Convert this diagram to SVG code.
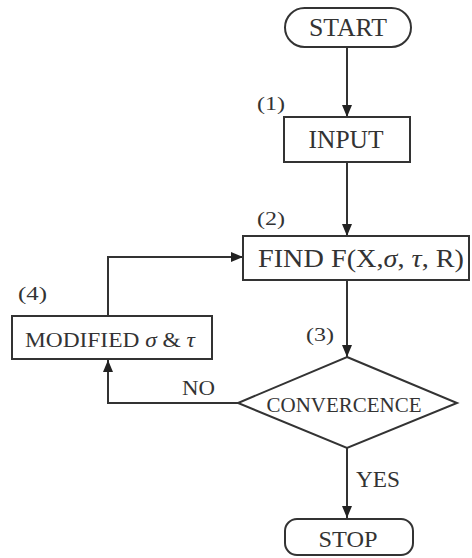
<svg xmlns="http://www.w3.org/2000/svg" width="472" height="558" viewBox="0 0 472 558">
<style>
.shape{fill:#fff;stroke:#333;stroke-width:2}
.conn{fill:none;stroke:#333;stroke-width:2}
text{font-family:"Liberation Serif","Times New Roman",serif;fill:#333}
.big{font-size:25px}
.lbl{font-size:19px}
</style>
<defs>
<marker id="ah2" viewBox="0 0 12 10" refX="12" refY="5" markerWidth="12" markerHeight="10" markerUnits="userSpaceOnUse" orient="auto">
<path d="M0,0 L12,5 L0,10 z" fill="#222"/>
</marker>
</defs>
<g id="connectors">
<line class="conn" x1="347" y1="47" x2="347" y2="117" marker-end="url(#ah2)"/>
<line class="conn" x1="347" y1="162" x2="347" y2="236" marker-end="url(#ah2)"/>
<line class="conn" x1="347" y1="280" x2="347" y2="357" marker-end="url(#ah2)"/>
<polyline class="conn" points="108,316 108,257 243,257" marker-end="url(#ah2)"/>
<polyline class="conn" points="238,403 108,403 108,360" marker-end="url(#ah2)"/>
<line class="conn" x1="347" y1="448" x2="347" y2="518" marker-end="url(#ah2)"/>
<text class="big" x="182" y="395" style="font-size:22px" textLength="33" lengthAdjust="spacingAndGlyphs">NO</text>
<text class="big" x="356" y="487" style="font-size:23px" textLength="44" lengthAdjust="spacingAndGlyphs">YES</text>
</g>
<g id="start">
<rect class="shape" x="285" y="8" width="126" height="39" rx="19.5"/>
<text class="big" x="348" y="36" text-anchor="middle" textLength="78" lengthAdjust="spacingAndGlyphs">START</text>
</g>
<g id="input">
<rect class="shape" x="284" y="117" width="126" height="45"/>
<text class="lbl" x="257" y="110" textLength="28" lengthAdjust="spacingAndGlyphs">(1)</text>
<text class="big" x="346" y="148" text-anchor="middle" textLength="75" lengthAdjust="spacingAndGlyphs">INPUT</text>
</g>
<g id="find">
<rect class="shape" x="243" y="236" width="226" height="44"/>
<text class="lbl" x="257" y="225" textLength="28" lengthAdjust="spacingAndGlyphs">(2)</text>
<text class="big" x="258" y="267" textLength="206" lengthAdjust="spacingAndGlyphs">FIND  F(X,<tspan font-style="italic">σ</tspan>, <tspan font-style="italic">τ</tspan>, R)</text>
</g>
<g id="modified">
<rect class="shape" x="12" y="316" width="200" height="43"/>
<text class="lbl" x="18" y="300" textLength="29" lengthAdjust="spacingAndGlyphs">(4)</text>
<text class="big" x="25" y="347" style="font-size:22px" textLength="170" lengthAdjust="spacingAndGlyphs">MODIFIED <tspan font-style="italic">σ</tspan> &amp; <tspan font-style="italic">τ</tspan></text>
</g>
<g id="convergence">
<polygon class="shape" points="347,357 457,403 347,448 238,403"/>
<text class="lbl" x="306" y="341" textLength="28" lengthAdjust="spacingAndGlyphs">(3)</text>
<text class="big" x="344" y="412" style="font-size:20px" text-anchor="middle" textLength="155" lengthAdjust="spacingAndGlyphs">CONVERCENCE</text>
</g>
<g id="stop">
<rect class="shape" x="285" y="519" width="128" height="36" rx="12"/>
<text class="big" x="348" y="547" style="font-size:24px" text-anchor="middle" textLength="59" lengthAdjust="spacingAndGlyphs">STOP</text>
</g>
</svg>
